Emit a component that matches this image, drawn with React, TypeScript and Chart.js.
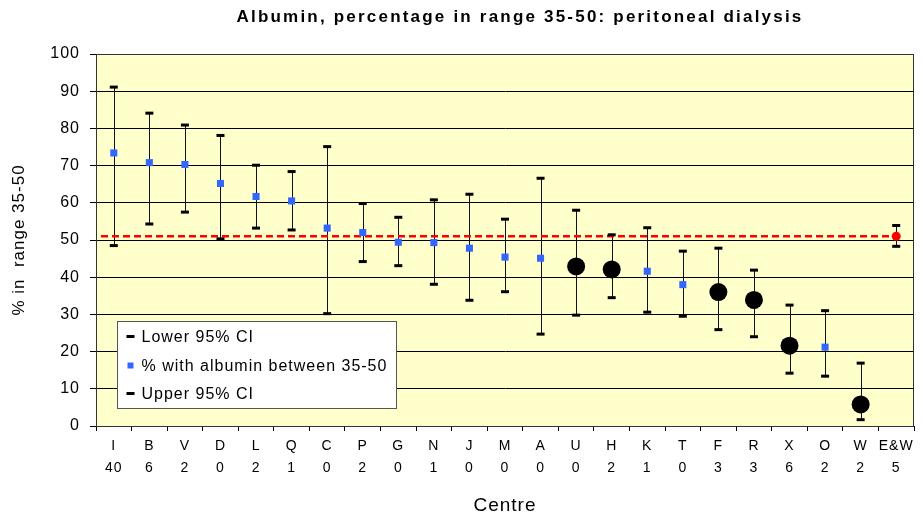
import React, { useEffect, useRef } from 'react';
import { Chart, registerables } from 'chart.js';

Chart.register(...registerables);

const chartTitle = 'Albumin, percentage in range 35-50: peritoneal dialysis';
const xTitle = 'Centre';
const yTitle = '% in  range 35-50';

const centres = ['I', 'B', 'V', 'D', 'L', 'Q', 'C', 'P', 'G', 'N', 'J', 'M', 'A', 'U', 'H', 'K', 'T', 'F', 'R', 'X', 'O', 'W', 'E&W'];
const counts = ['40', '6', '2', '0', '2', '1', '0', '2', '0', '1', '0', '0', '0', '0', '2', '1', '0', '3', '3', '6', '2', '2', '5'];

const pctInRange = [73.4, 70.8, 70.3, 65.2, 61.7, 60.5, 53.2, 52.0, 49.4, 49.3, 47.8, 45.4, 45.1, 42.9, 42.1, 41.6, 38.0, 36.0, 32.5, 21.6, 21.2, 5.8, null];
const lowerCI = [48.5, 54.3, 57.5, 50.3, 53.2, 52.7, 30.2, 44.2, 43.1, 38.1, 33.8, 36.1, 24.7, 29.8, 34.5, 30.6, 29.5, 25.9, 24.0, 14.2, 13.4, 1.7, 48.3];
const upperCI = [91.1, 84.1, 80.9, 78.1, 70.1, 68.4, 75.1, 59.8, 56.1, 60.8, 62.3, 55.6, 66.6, 58.0, 51.4, 53.3, 47.0, 47.8, 41.9, 32.5, 31.0, 16.9, 53.9];
const flagged = [null, null, null, null, null, null, null, null, null, null, null, null, null, 42.9, 42.1, null, null, 36.0, 33.9, 21.6, null, 5.8, null];
const nationalPoint = [null, null, null, null, null, null, null, null, null, null, null, null, null, null, null, null, null, null, null, null, null, null, 51.0];
const nationalAverage = 51.0;

const legendLabels = ['Lower 95% CI', '% with albumin between 35-50', 'Upper 95% CI'];

const FONT = 'Arial, "Liberation Sans", sans-serif';
const BLUE = '#3366FF';

const spacingPlugin = {
  id: 'spacing',
  beforeUpdate(chart: any) {
    chart.ctx.letterSpacing = '1px';
  },
  beforeDraw(chart: any) {
    const { ctx, chartArea } = chart;
    ctx.letterSpacing = '1px';
    ctx.save();
    ctx.fillStyle = '#FFFFCC';
    ctx.fillRect(chartArea.left, chartArea.top, chartArea.right - chartArea.left, chartArea.bottom - chartArea.top);
    ctx.restore();
  },
};

const errorBarPlugin = {
  id: 'errorBars',
  beforeDatasetsDraw(chart: any) {
    const { ctx, chartArea, scales } = chart;
    const xs = scales.x;
    const ys = scales.y;
    ctx.save();
    ctx.strokeStyle = '#333';
    ctx.lineWidth = 1;
    ctx.strokeRect(Math.round(chartArea.left) + 0.5, Math.round(chartArea.top) + 0.5, Math.round(chartArea.right - chartArea.left) - 1, Math.round(chartArea.bottom - chartArea.top));
    ctx.strokeStyle = '#111';
    ctx.lineWidth = 1;
    for (let i = 0; i < centres.length; i++) {
      const x = Math.round(xs.getPixelForValue(i)) + 0.5;
      ctx.beginPath();
      ctx.moveTo(x, ys.getPixelForValue(lowerCI[i]));
      ctx.lineTo(x, ys.getPixelForValue(upperCI[i]));
      ctx.stroke();
    }
    const y = ys.getPixelForValue(nationalAverage);
    ctx.strokeStyle = '#FF0000';
    ctx.lineWidth = 2.5;
    ctx.setLineDash([7, 4]);
    ctx.beginPath();
    ctx.moveTo(chartArea.left + 5, y);
    ctx.lineTo(xs.getPixelForValue(centres.length - 1), y);
    ctx.stroke();
    ctx.restore();
  },
  afterDraw(chart: any) {
    const { ctx } = chart;
    ctx.save();
    ctx.font = `bold 17px ${FONT}`;
    ctx.letterSpacing = '2.2px';
    ctx.fillStyle = '#000';
    ctx.textAlign = 'center';
    ctx.textBaseline = 'middle';
    ctx.fillText(chartTitle, 520, 17);
    const bx = 117.5, by = 321.5, bw = 279, bh = 87;
    ctx.fillStyle = '#FFFFFF';
    ctx.fillRect(bx, by, bw, bh);
    ctx.strokeStyle = '#555';
    ctx.lineWidth = 1;
    ctx.strokeRect(bx, by, bw, bh);
    ctx.font = `16px ${FONT}`;
    ctx.letterSpacing = '1px';
    ctx.textAlign = 'left';
    const rows = [336.5, 365.5, 393.5];
    legendLabels.forEach((label, i) => {
      const ry = rows[i];
      if (i === 1) {
        ctx.fillStyle = BLUE;
        ctx.fillRect(127.5, ry - 3, 6, 6);
      } else {
        ctx.fillStyle = '#000';
        ctx.fillRect(126.5, ry - 1.5, 8, 3);
      }
      ctx.fillStyle = '#000';
      ctx.fillText(label, 141.5, ry + 1);
    });
    ctx.restore();
  },
};

export default function App() {
  const ref = useRef<HTMLCanvasElement>(null);
  useEffect(() => {
    const canvas = ref.current!;
    Chart.defaults.font.family = FONT;
    const chart = new Chart(canvas, {
      type: 'line',
      data: {
        labels: centres.map((c, i) => [c, counts[i]]),
        datasets: [
          {
            label: 'Flagged',
            data: flagged,
            showLine: false,
            pointStyle: 'circle',
            pointRadius: 9,
            pointBackgroundColor: '#000',
            pointBorderColor: '#000',
            pointBorderWidth: 0,
          },
          {
            label: 'E&W',
            data: nationalPoint,
            showLine: false,
            pointStyle: 'circle',
            pointRadius: 4.5,
            pointBackgroundColor: '#FF0000',
            pointBorderColor: '#FF0000',
            pointBorderWidth: 0,
          },
          {
            label: legendLabels[1],
            data: pctInRange,
            showLine: false,
            pointStyle: 'rect',
            pointRadius: 5,
            pointBackgroundColor: BLUE,
            pointBorderColor: BLUE,
            pointBorderWidth: 0,
          },
          {
            label: legendLabels[0],
            data: lowerCI,
            showLine: false,
            pointStyle: 'line',
            pointRadius: 4,
            pointBorderColor: '#000',
            pointBorderWidth: 3,
          },
          {
            label: legendLabels[2],
            data: upperCI,
            showLine: false,
            pointStyle: 'line',
            pointRadius: 4,
            pointBorderColor: '#000',
            pointBorderWidth: 3,
          },
        ] as any,
      },
      options: {
        responsive: false,
        animation: false,
        devicePixelRatio: 1,
        layout: { padding: { top: 54, right: 2, left: 0, bottom: 0 } },
        plugins: {
          legend: { display: false },
          title: { display: false },
          tooltip: { enabled: false },
        },
        scales: {
          x: {
            type: 'category',
            offset: true,
            grid: { offset: true, drawOnChartArea: false, drawTicks: true, tickLength: 5, color: '#000', lineWidth: 1 },
            border: { color: '#000', width: 1 },
            ticks: { autoSkip: false, maxRotation: 0, minRotation: 0, padding: 4, color: '#000', font: { size: 14, lineHeight: 1.6 } },
            title: { display: true, text: xTitle, color: '#000', font: { size: 19 }, padding: { top: 0, bottom: 3 } },
            afterFit(s: any) { s.height = 94; },
          },
          y: {
            min: 0,
            max: 100,
            ticks: { stepSize: 10, padding: 10, color: '#000', font: { size: 16 } },
            grid: { color: '#000', tickLength: 6, lineWidth: 1 },
            border: { color: '#000', width: 1 },
            title: { display: true, text: yTitle, color: '#000', font: { size: 17 }, padding: { top: 9, bottom: 0 } },
            afterFit(s: any) { s.width = 96; },
          },
        },
      } as any,
      plugins: [spacingPlugin, errorBarPlugin],
    });
    return () => chart.destroy();
  }, []);
  return (
    <div style={{ position: 'absolute', left: 0, top: 0, width: 923, height: 520, background: '#fff' }}>
      <canvas ref={ref} width={923} height={520} style={{ display: 'block', width: 923, height: 520 }} />
    </div>
  );
}
